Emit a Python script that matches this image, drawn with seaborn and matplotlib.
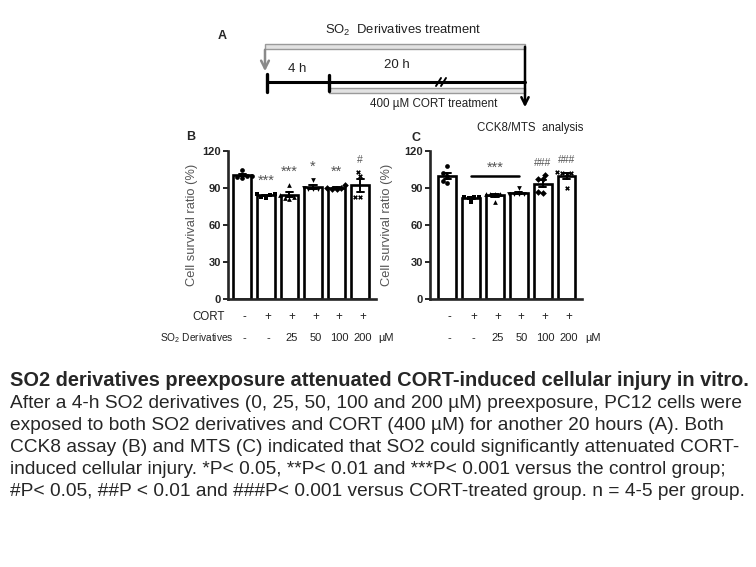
import numpy as np
import pandas as pd
import seaborn as sns
import matplotlib.pyplot as plt
from matplotlib.patches import Rectangle

# groups: control, CORT, CORT + SO2 derivatives (25, 50, 100, 200 uM)
groups = ["ctrl", "cort", "25", "50", "100", "200"]
cort_row = ["-", "+", "+", "+", "+", "+"]
so2_row = ["-", "-", "25", "50", "100", "200"]
markers = ["o", "s", "^", "v", "D", "X"]

# B: CCK8 assay, cell survival ratio (%)
cck8 = [
    [104.5, 100, 100, 99, 98.5],
    [82, 83, 84, 85.5, 85.5],
    [92.7, 84, 83, 82, 81],
    [96.8, 90, 89, 89, 89],
    [92.7, 90, 90, 89.5, 89.5],
    [99.5, 103, 83, 83],
]
# C: MTS assay, cell survival ratio (%)
mts = [
    [108, 102, 100, 96, 94],
    [78.5, 82, 82.5, 83, 83],
    [79, 85, 85, 85.5, 85.5],
    [90, 85, 85, 85, 85],
    [100.4, 97.6, 97, 86.7, 86],
    [90, 101.7, 102, 103, 102],
]
sig_b = ["", "***", "***", "*", "**", "#"]
sig_c = ["", "", "", "", "###", "###"]
bracket_c = (1, 3, "***")

yticks = [0, 30, 60, 90, 120]


def to_df(vals):
    rows = []
    for g, v in zip(groups, vals):
        for x in v:
            rows.append({"group": g, "value": x})
    return pd.DataFrame(rows)


sns.set_style("ticks")
plt.rcParams["font.family"] = ["Liberation Sans", "DejaVu Sans"]
plt.rcParams["mathtext.fontset"] = "custom"
plt.rcParams["mathtext.rm"] = "Liberation Sans"
plt.rcParams["mathtext.it"] = "Liberation Sans:italic"
plt.rcParams["mathtext.bf"] = "Liberation Sans:bold"

fig = plt.figure(figsize=(7.56, 5.67), dpi=100)
W, H = 756, 567

# overlay in pixel coordinates for the scheme and caption
ov = fig.add_axes([0, 0, 1, 1])
ov.set_xlim(0, W)
ov.set_ylim(H, 0)
ov.axis("off")
renderer = fig.canvas.get_renderer()


def fit(t, width):
    cur = t.get_window_extent(renderer).width
    t.set_fontsize(t.get_fontsize() * width / cur)
    return t


# ---- panel A : treatment scheme ----
ov.text(222, 36, "A", fontsize=9, fontweight="bold", ha="center", va="center")
fit(ov.text(325, 30, "SO$_2$  Derivatives treatment", fontsize=9, ha="left", va="center", color="#222"), 156)
ov.add_patch(Rectangle((265, 44), 260, 5, facecolor="#e2e2e2", edgecolor="#9a9a9a", lw=1))
ov.add_patch(Rectangle((329, 88), 196, 5, facecolor="#e2e2e2", edgecolor="#9a9a9a", lw=1))
ov.annotate("", xy=(265, 74), xytext=(265, 47),
            arrowprops=dict(arrowstyle="->", color="#8a8a8a", lw=1.8, mutation_scale=14))
ov.annotate("", xy=(525, 110), xytext=(525, 44),
            arrowprops=dict(arrowstyle="->", color="black", lw=1.8, mutation_scale=13))
ov.plot([267, 525], [82, 82], color="black", lw=2.2)
ov.plot([267, 267], [74, 92], color="black", lw=2.4)
ov.plot([329, 329], [75, 91], color="black", lw=2.4)
ov.plot([436, 441], [86, 78], color="black", lw=1.4)
ov.plot([441, 446], [86, 78], color="black", lw=1.4)
ov.text(297, 69, "4 h", fontsize=9.5, ha="center", va="center", color="#222")
ov.text(397, 65, "20 h", fontsize=9.5, ha="center", va="center", color="#222")
fit(ov.text(370, 104, "400 µM CORT treatment", fontsize=9, ha="left", va="center", color="#222"), 128)
fit(ov.text(477, 128, "CCK8/MTS  analysis", fontsize=8, ha="left", va="center", color="#222"), 107)


def draw_panel(rect, vals, xlim, sig, letter, letter_xy, labelpad, bracket=None, row_names=True):
    ax = fig.add_axes(rect)
    df = to_df(vals)
    sns.barplot(data=df, x="group", y="value", order=groups, color="white",
                edgecolor="black", linewidth=1.9, width=0.75, errorbar="se",
                capsize=0.3, err_kws={"color": "black", "linewidth": 1.4}, ax=ax)
    for g, m in zip(groups, markers):
        sns.swarmplot(data=df[df["group"] == g], x="group", y="value", order=groups,
                      marker=m, color="black", size=3.4, ax=ax)
    ax.set_xlim(*xlim)
    ax.set_ylim(0, 120)
    ax.set_yticks(yticks)
    ax.set_xticks([])
    ax.set_xlabel("")
    ax.set_ylabel("Cell survival ratio (%)", fontsize=9.3, color="#555", labelpad=labelpad)
    ax.tick_params(axis="y", labelsize=8, length=3.5, width=1.4, pad=1.5)
    for lab in ax.get_yticklabels():
        lab.set_fontweight("bold")
    for s in ["left", "bottom"]:
        ax.spines[s].set_linewidth(1.9)
    sns.despine(ax=ax)

    # significance marks
    for i, (s, v) in enumerate(zip(sig, vals)):
        if s.startswith("*"):
            ax.text(i, max(v) + 7, s, ha="center", va="baseline", fontsize=10.5, color="#555")
        elif s:
            ax.text(i, max(v) + 7.5, s, ha="center", va="baseline", fontsize=7.5, color="#555")
    if bracket is not None:
        a, b, s = bracket
        top = max(max(v) for v in vals[a:b + 1]) + 10
        ax.plot([a, b], [top, top], color="black", lw=1.8, clip_on=False)
        ax.text((a + b) / 2, top + 3, s, ha="center", va="baseline", fontsize=10.5, color="#555")

    # treatment rows under the bars
    tr = ax.get_xaxis_transform()
    for i in range(len(groups)):
        ax.text(i + 0.1, -0.12, cort_row[i], transform=tr, ha="center", va="center", fontsize=8.3, color="#222")
        ax.text(i + 0.1, -0.265, so2_row[i], transform=tr, ha="center", va="center", fontsize=8, color="#222")
    ax.text(6.1, -0.265, "µM", transform=tr, ha="center", va="center", fontsize=8, color="#222")
    if row_names:
        ax.text(-0.75, -0.12, "CORT", transform=tr, ha="right", va="center", fontsize=8.3, color="#222")
        ax.text(-0.38, -0.265, "SO$_2$ Derivatives", transform=tr, ha="right", va="center", fontsize=7.3, color="#222")
    ov.text(letter_xy[0], letter_xy[1], letter, fontsize=9, fontweight="bold", ha="center", va="center")
    return ax


draw_panel([228 / W, 1 - 299 / H, 147.5 / W, 148 / H], cck8, (-0.6, 5.65), sig_b,
           "B", (191, 137), 3)
draw_panel([430 / W, 1 - 299 / H, 152 / W, 148 / H], mts, (-0.73, 5.65), sig_c,
           "C", (416, 138), 8, bracket=bracket_c, row_names=False)

# ---- caption ----
cap_bold = "SO2 derivatives preexposure attenuated CORT-induced cellular injury in vitro."
cap_lines = [
    "After a 4-h SO2 derivatives (0, 25, 50, 100 and 200 µM) preexposure, PC12 cells were",
    "exposed to both SO2 derivatives and CORT (400 µM) for another 20 hours (A). Both",
    "CCK8 assay (B) and MTS (C) indicated that SO2 could significantly attenuated CORT-",
    "induced cellular injury. *P< 0.05, **P< 0.01 and ***P< 0.001 versus the control group;",
    "#P< 0.05, ##P < 0.01 and ###P< 0.001 versus CORT-treated group. n = 4-5 per group.",
]
fit(ov.text(10, 381, cap_bold, fontsize=12, fontweight="bold", ha="left", va="center"), 738)
t0 = fit(ov.text(10, 403, cap_lines[0], fontsize=12, ha="left", va="center"), 735)
for k, line in enumerate(cap_lines[1:]):
    ov.text(10, 425 + 22.2 * k, line, fontsize=t0.get_fontsize(), ha="left", va="center")

fig.savefig("out.png", dpi=100, facecolor="white")
